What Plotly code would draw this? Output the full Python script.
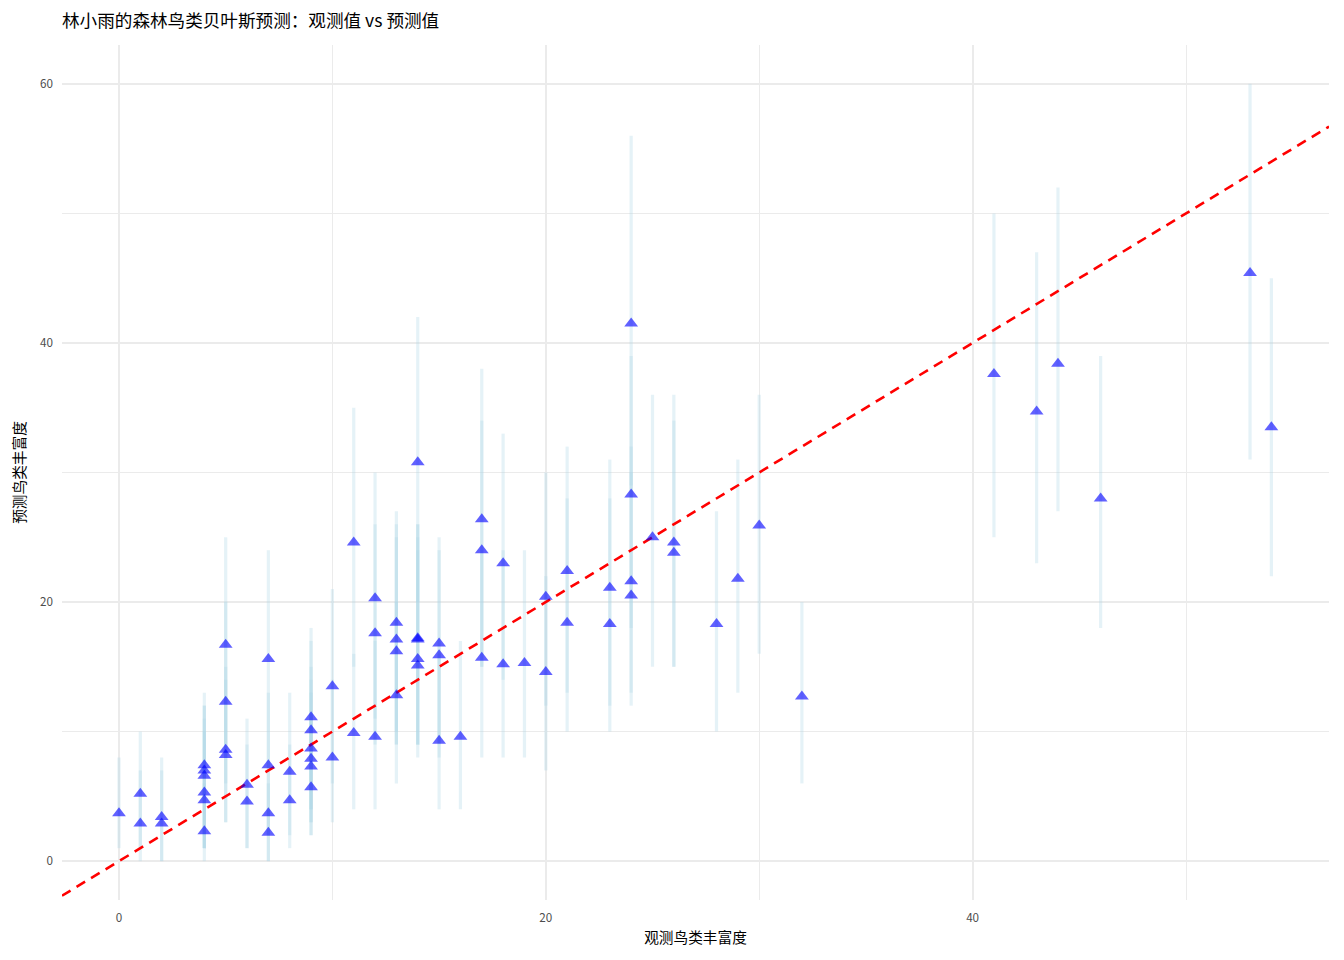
import plotly.graph_objects as go

# ---- data ----
observed = [0, 1, 1, 2, 2, 4, 4, 4, 4, 4, 4, 5, 5, 5, 5, 6, 6, 7, 7, 7, 7, 8, 8,
            9, 9, 9, 9, 9, 9, 10, 10, 11, 11, 12, 12, 12, 13, 13, 13, 13,
            14, 14, 14, 14, 14, 15, 15, 15, 16, 17, 17, 17, 18, 18, 19, 20, 20,
            21, 21, 23, 23, 24, 24, 24, 24, 25, 26, 26, 28, 29, 30, 32,
            41, 43, 44, 46, 53, 54]
predicted = [3.7, 5.2, 2.9, 3.4, 2.9, 7.4, 7.0, 6.6, 5.3, 4.7, 2.3, 16.7, 12.3, 8.6, 8.2,
             5.9, 4.6, 15.6, 7.4, 3.7, 2.2, 6.9, 4.7,
             11.1, 10.1, 8.7, 7.9, 7.3, 5.7, 13.5, 8.0, 24.6, 9.9, 20.3, 17.6, 9.6,
             18.4, 17.1, 16.2, 12.8, 30.8, 17.2, 17.1, 15.6, 15.1, 16.8, 15.9, 9.3,
             9.6, 26.4, 24.0, 15.7, 23.0, 15.2, 15.3, 20.4, 14.6, 22.4, 18.4,
             21.1, 18.3, 41.5, 28.3, 21.6, 20.5, 25.0, 24.6, 23.8, 18.3, 21.8, 25.9, 12.7,
             37.6, 34.7, 38.4, 28.0, 45.4, 33.5]
lower = [1, 1, 0, 0, 0, 2, 1, 1, 1, 1, 0, 9, 6, 3, 3, 1, 1, 8, 2, 0, 0, 2, 1,
         4, 4, 3, 3, 2, 2, 6, 3, 15, 4, 11, 9, 4, 10, 9, 9, 6, 20, 9, 9, 9, 8, 9, 8, 4,
         4, 15, 15, 8, 14, 8, 8, 12, 7, 13, 10, 12, 10, 29, 18, 13, 12, 15, 15, 15, 10, 13, 16, 6,
         25, 23, 27, 18, 31, 22]
upper = [8, 10, 7, 8, 7, 13, 12, 12, 11, 10, 6, 25, 20, 15, 14, 11, 9, 24, 13, 8, 6, 13, 9,
         18, 17, 15, 14, 13, 11, 21, 14, 35, 16, 30, 26, 17, 27, 26, 25, 20, 42, 26, 26, 25, 24, 25, 24, 16,
         17, 38, 34, 24, 33, 24, 24, 30, 22, 32, 28, 31, 28, 56, 39, 32, 30, 36, 36, 34, 27, 31, 36, 20,
         50, 47, 52, 39, 60, 45]
assert len(observed) == len(predicted) == len(lower) == len(upper)

title_text = "林小雨的森林鸟类贝叶斯预测：观测值 vs 预测值"
x_title = "观测鸟类丰富度"
y_title = "预测鸟类丰富度"
x_range = [-2.67, 56.7]
y_range = [-3.0, 63.0]

FONT = "Noto Sans CJK SC, Noto Sans, DejaVu Sans, sans-serif"

fig = go.Figure()

# credible interval bars
fig.add_trace(go.Scatter(
    x=observed, y=predicted, mode="markers",
    marker=dict(size=0.1, color="rgba(0,0,0,0)"),
    error_y=dict(type="data", symmetric=False,
                 array=[u - p for u, p in zip(upper, predicted)],
                 arrayminus=[p - l for p, l in zip(predicted, lower)],
                 color="rgba(173,216,230,0.32)", thickness=3.2, width=0),
    hoverinfo="skip", showlegend=False))

# y = x reference line spanning the axis range
fig.add_trace(go.Scatter(
    x=x_range, y=x_range, mode="lines",
    line=dict(color="#ff0000", width=2.6, dash="10px,7px"),
    hoverinfo="skip", showlegend=False))

# predicted points
fig.add_trace(go.Scatter(
    x=observed, y=predicted, mode="markers",
    marker=dict(symbol="triangle-up", size=12, color="rgba(0,0,255,0.62)",
                line=dict(width=0)),
    showlegend=False))

axis_common = dict(
    showline=False, zeroline=False, ticks="",
    gridcolor="#ebebeb", gridwidth=2,
    tickfont=dict(family=FONT, size=11.7, color="#4d4d4d"),
    title_font=dict(family=FONT, size=14.67, color="#000000"),
)

W, H = 1344, 960
fig.update_layout(
    width=W, height=H,
    plot_bgcolor="white", paper_bgcolor="white",
    margin=dict(l=54, r=23, t=37, b=68),
    font=dict(family=FONT),
    title=dict(text=title_text, x=54 / W, xref="container", xanchor="left",
               y=1 - 13 / H, yref="container", yanchor="middle",
               font=dict(family=FONT, size=17.6, color="#000000")),
    xaxis=dict(range=x_range, dtick=20, tick0=0,
               minor=dict(showgrid=True, dtick=10, tick0=0, gridcolor="#ebebeb", gridwidth=1),
               title=dict(text=x_title, standoff=9),
               ticklabelstandoff=9, **axis_common),
    yaxis=dict(range=y_range, dtick=20, tick0=0,
               minor=dict(showgrid=True, dtick=10, tick0=0, gridcolor="#ebebeb", gridwidth=1),
               title=dict(text=y_title, standoff=10),
               ticklabelstandoff=8, **axis_common),
)

fig.write_html("out.html")
